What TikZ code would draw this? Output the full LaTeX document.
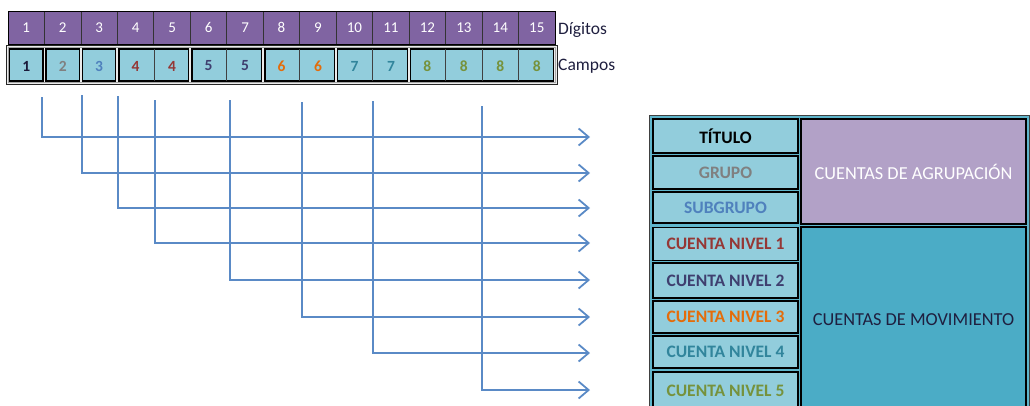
\documentclass[tikz,border=0pt]{standalone}
\usepackage{fontspec}
\setmainfont{Carlito}
\usetikzlibrary{arrows.meta}
\definecolor{dpurple}{HTML}{8064A2}
\definecolor{lblue}{HTML}{92CDDC}
\definecolor{lpurple}{HTML}{B2A1C7}
\definecolor{tealbox}{HTML}{4BACC6}
\definecolor{gapcol}{HTML}{5FB6CC}
\definecolor{lineblue}{HTML}{5A8AC6}
\definecolor{cA}{HTML}{1A1A3A}
\definecolor{cB}{HTML}{808080}
\definecolor{cC}{HTML}{4F81BD}
\definecolor{cD}{HTML}{953735}
\definecolor{cE}{HTML}{3F3F6F}
\definecolor{cF}{HTML}{E46C0A}
\definecolor{cG}{HTML}{31859C}
\definecolor{cH}{HTML}{76923C}
\definecolor{labcol}{HTML}{1F1F3F}
\tikzset{
  digit/.style={draw=black!80, fill=dpurple, text=white, line width=0.8pt,
    minimum width=36.47pt, minimum height=33pt, inner sep=0pt, outer sep=0pt,
    font=\fontsize{15}{15}\selectfont},
  field/.style={inner sep=0pt, outer sep=0pt, font=\bfseries\fontsize{15.5}{15.5}\selectfont},
  groupbox/.style={draw=black, fill=lblue, line width=1.3pt},
  celldiv/.style={draw=black!75, line width=0.7pt},
  sidelab/.style={anchor=west, inner sep=0pt, text=labcol, font=\fontsize{17.5}{17.5}\selectfont},
  conn/.style={draw=lineblue, line width=1.8pt, -{Straight Barb[length=10pt,width=17pt]}},
  lcell/.style={draw=black, fill=lblue, line width=1.3pt, minimum width=145pt,
    inner sep=0pt, outer sep=0pt, font=\bfseries\fontsize{17.5}{17.5}\selectfont},
  rcell/.style={draw=black, line width=1.3pt, minimum width=225pt,
    inner sep=0pt, outer sep=0pt, font=\fontsize{18.3}{18.3}\selectfont}
}
\begin{document}
\begin{tikzpicture}[x=1pt,y=-1pt]
\useasboundingbox (0,0) rectangle (1030,405);
% digit row
\foreach \i in {1,...,15} {
  \pgfmathsetmacro\xc{8+36.47*(\i-1)+18.235}
  \node[digit] (d\i) at (\xc,27.5) {\i};
}
\draw[black, line width=0.9pt] (8,11) rectangle (555,44);
% campos row frame
\draw[draw=black!85, fill=black!8, line width=1pt] (6.5,45) rectangle (557,84);
\draw[draw=black!35, line width=0.8pt] (8.5,47) rectangle (555,82);
% group boxes
\foreach \a/\b in {1/1,2/2,3/3,4/5,6/7,8/9,10/11,12/15} {
  \pgfmathsetmacro\xa{8+36.47*(\a-1)+1.6}
  \pgfmathsetmacro\xb{8+36.47*\b-1.6}
  \draw[groupbox] (\xa,49) rectangle (\xb,81);
}
\foreach \k in {5,7,9,11,13,14,15} {
  \pgfmathsetmacro\xk{8+36.47*(\k-1)}
  \draw[celldiv] (\xk,49) -- (\xk,81);
}
% field numbers
\foreach \i/\v/\c in {1/1/cA,2/2/cB,3/3/cC,4/4/cD,5/4/cD,6/5/cE,7/5/cE,8/6/cF,9/6/cF,10/7/cG,11/7/cG,12/8/cH,13/8/cH,14/8/cH,15/8/cH} {
  \pgfmathsetmacro\xc{8+36.47*(\i-1)+18.235}
  \node[field, text=\c] (c\i) at (\xc,66) {\v};
}
\node[sidelab] (dig) at (558,29.5) {Dígitos};
\node[sidelab] (cam) at (558,66) {Campos};
% connector start and end points
\foreach \n/\x/\y/\r in {1/42/97/137,2/82/95/173,3/118/96/208,4/155/100/243,5/230/100/280,6/302/102/317,7/373/101/353,8/482/106/390} {
  \coordinate (s\n) at (\x,\y);
  \coordinate (t\n) at (590,\r);
}
\foreach \n in {1,...,8} {
  \draw[conn] (s\n) |- (t\n);
}
% right table
\draw[draw=black!75, fill=gapcol, line width=1pt] (649,115) rectangle (1029,412);
\node[lcell, minimum height=34pt, text=black] (titulo) at (725.5,136) {TÍTULO};
\node[lcell, minimum height=33pt, text=cB] (grupo) at (725.5,172.5) {GRUPO};
\node[lcell, minimum height=31pt, text=cC] (subgrupo) at (725.5,207.5) {SUBGRUPO};
\node[lcell, minimum height=33pt, text=cD] (n1) at (725.5,244) {CUENTA NIVEL 1};
\node[lcell, minimum height=35pt, text=cE] (n2) at (725.5,280.5) {CUENTA NIVEL 2};
\node[lcell, minimum height=32pt, text=cF] (n3) at (725.5,317) {CUENTA NIVEL 3};
\node[lcell, minimum height=32pt, text=cG] (n4) at (725.5,352) {CUENTA NIVEL 4};
\node[lcell, minimum height=38pt, text=cH] (n5) at (725.5,391) {CUENTA NIVEL 5};
\node[rcell, fill=lpurple, minimum height=105pt, text=white] (agr) at (913.5,171.5) {CUENTAS DE AGRUPACIÓN};
\node[rcell, fill=tealbox, minimum height=185pt, text=labcol] (mov) at (913.5,319.5) {CUENTAS DE MOVIMIENTO};
\end{tikzpicture}
\end{document}
